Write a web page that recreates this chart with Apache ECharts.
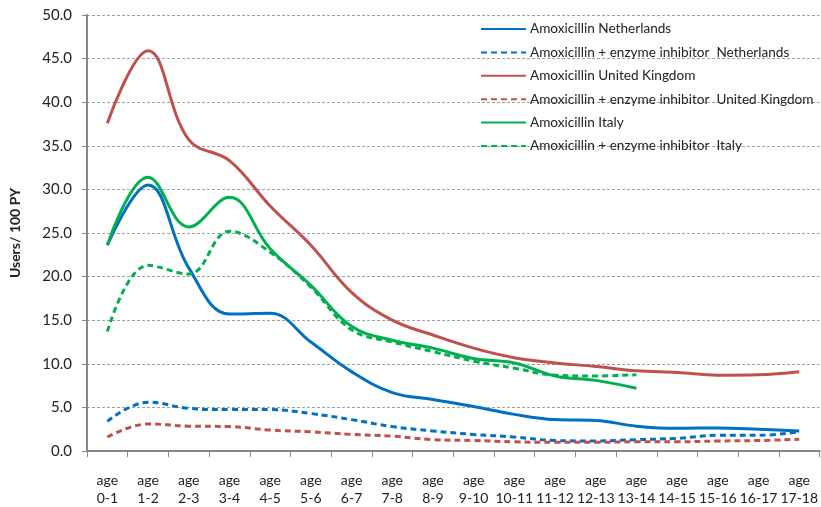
<!DOCTYPE html>
<html>
<head>
<meta charset="utf-8">
<script src="https://cdn.jsdelivr.net/npm/echarts@6/dist/echarts.min.js"></script>
<style>
  html, body { margin: 0; padding: 0; background: #fff; overflow: hidden; }
  #chart { width: 821px; height: 507px; }
</style>
</head>
<body>
<div id="chart"></div>
<script>
// Age bands on the category axis
const ageBands = ['age\n0-1', 'age\n1-2', 'age\n2-3', 'age\n3-4', 'age\n4-5', 'age\n5-6',
  'age\n6-7', 'age\n7-8', 'age\n8-9', 'age\n9-10', 'age\n10-11', 'age\n11-12',
  'age\n12-13', 'age\n13-14', 'age\n14-15', 'age\n15-16', 'age\n16-17', 'age\n17-18'];

// Users per 100 person-years
const amoxNL   = [23.6, 30.5, 21.0, 15.7, 15.8, 12.5, 9.1, 6.7, 5.9, 5.1, 4.2, 3.6, 3.5, 2.85, 2.6, 2.65, 2.5, 2.3];
const amoxInhNL = [3.4, 5.6, 4.9, 4.75, 4.75, 4.3, 3.6, 2.8, 2.3, 1.9, 1.6, 1.2, 1.15, 1.3, 1.45, 1.8, 1.8, 2.2];
const amoxUK   = [37.6, 45.9, 35.7, 33.3, 28.1, 23.6, 18.2, 15.0, 13.3, 11.8, 10.7, 10.1, 9.7, 9.2, 9.0, 8.7, 8.75, 9.1];
const amoxInhUK = [1.6, 3.1, 2.85, 2.8, 2.4, 2.2, 1.9, 1.7, 1.3, 1.2, 1.05, 1.0, 1.0, 1.05, 1.05, 1.15, 1.2, 1.35];
const amoxIT   = [23.6, 31.4, 25.7, 29.1, 23.2, 19.0, 14.3, 12.7, 11.8, 10.6, 10.1, 8.6, 8.1, 7.2, null, null, null, null];
const amoxInhIT = [13.7, 21.3, 20.3, 25.2, 22.8, 18.8, 13.9, 12.5, 11.4, 10.3, 9.5, 8.7, 8.6, 8.75, null, null, null, null];

const yTicks = { min: 0, max: 50, step: 5 };

const BLUE = '#0070C0', RED = '#C0504D', GREEN = '#00B050';
const FONT = 'Lato, "Open Sans", sans-serif';

function line(name, data, color, dashed) {
  return {
    name: name,
    type: 'line',
    data: data,
    smooth: 0.4,
    symbol: 'none',
    connectNulls: false,
    lineStyle: { color: color, width: 3, type: dashed ? [6, 4] : 'solid' },
    itemStyle: { color: color }
  };
}

const series = [
  line('Amoxicillin Netherlands', amoxNL, BLUE, false),
  line('Amoxicillin + enzyme inhibitor  Netherlands', amoxInhNL, BLUE, true),
  line('Amoxicillin United Kingdom', amoxUK, RED, false),
  line('Amoxicillin + enzyme inhibitor  United Kingdom', amoxInhUK, RED, true),
  line('Amoxicillin Italy', amoxIT, GREEN, false),
  line('Amoxicillin + enzyme inhibitor  Italy', amoxInhIT, GREEN, true)
];

const chart = echarts.init(document.getElementById('chart'), null, { renderer: 'canvas' });
chart.setOption({
  animation: false,
  backgroundColor: '#fff',
  textStyle: { fontFamily: FONT },
  grid: { left: 85, top: 15, width: 735, height: 438, containLabel: false },
  legend: {
    orient: 'vertical',
    left: 480,
    top: 22,
    padding: 0,
    itemWidth: 45,
    itemHeight: 16,
    itemGap: 9.4,
    itemStyle: { opacity: 0 },
    textStyle: { fontFamily: FONT, fontSize: 13.6, color: '#222', padding: [0, 0, 0, -1] },
    data: series.map(s => s.name)
  },
  xAxis: {
    type: 'category',
    data: ageBands,
    boundaryGap: true,
    axisLine: { lineStyle: { color: '#868686', width: 2 } },
    axisTick: { show: true, alignWithLabel: false, length: 6, lineStyle: { color: '#868686' } },
    axisLabel: { fontFamily: FONT, fontSize: 14, color: '#222', margin: 20, lineHeight: 18, interval: 0 }
  },
  yAxis: {
    type: 'value',
    min: yTicks.min,
    max: yTicks.max,
    interval: yTicks.step,
    name: 'Users/ 100 PY',
    nameLocation: 'middle',
    nameGap: 65,
    nameTextStyle: { fontFamily: FONT, fontSize: 14, fontWeight: 'bold', color: '#222' },
    axisLine: { show: true, lineStyle: { color: '#868686', width: 2 } },
    axisTick: { show: true, inside: false, length: 5, lineStyle: { color: '#868686' } },
    axisLabel: { fontFamily: FONT, fontSize: 15, color: '#222', margin: 15, formatter: v => v.toFixed(1) },
    splitLine: { show: true, lineStyle: { color: '#A0A0A0', type: [3, 2], width: 1 } }
  },
  series: series
});
</script>
</body>
</html>
